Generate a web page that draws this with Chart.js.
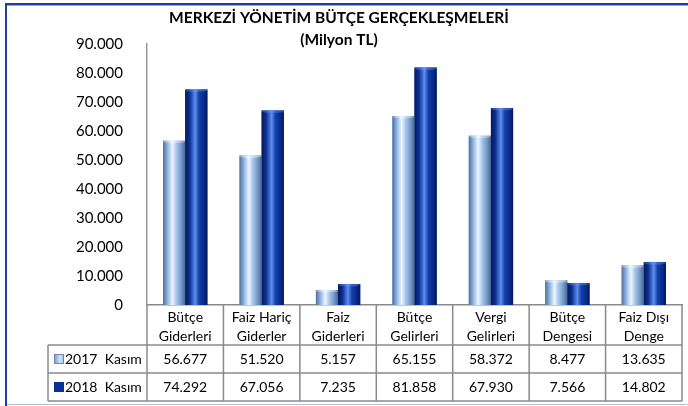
<!DOCTYPE html>
<html>
<head>
<meta charset="utf-8">
<script src="https://cdn.jsdelivr.net/npm/chart.js@4.4.1/dist/chart.umd.min.js"></script>
<style>
  html, body { margin: 0; padding: 0; background: #fff; }
  #wrap { width: 688px; height: 406px; position: relative; }
</style>
</head>
<body>
<div id="wrap"><canvas id="butceChart" width="688" height="406"></canvas></div>
<script>
const categories = [
  ['Bütçe', 'Giderleri'],
  ['Faiz Hariç', 'Giderler'],
  ['Faiz', 'Giderleri'],
  ['Bütçe', 'Gelirleri'],
  ['Vergi', 'Gelirleri'],
  ['Bütçe', 'Dengesi'],
  ['Faiz Dışı', 'Denge']
];
const seriesNames = ['2017  Kasım', '2018  Kasım'];
const kasim2017 = [56677, 51520, 5157, 65155, 58372, 8477, 13635];
const kasim2018 = [74292, 67056, 7235, 81858, 67930, 7566, 14802];
const yTicks = [0, 10000, 20000, 30000, 40000, 50000, 60000, 70000, 80000, 90000];
const titleLines = ['MERKEZİ YÖNETİM BÜTÇE GERÇEKLEŞMELERİ', '(Milyon TL)'];

const FONT = 'Lato, "Open Sans", sans-serif';

// 90000 -> "90.000"
function trNum(v) {
  return String(v).replace(/\B(?=(\d{3})+(?!\d))/g, '.');
}

// cylinder-like horizontal gradients for each series
const gradStops = [
  [[0, '#4f6f9b'], [0.18, '#86acdc'], [0.42, '#eef6ff'], [0.6, '#a8c7ee'], [0.85, '#6d91c2'], [1, '#4a6792']],
  [[0, '#06195a'], [0.2, '#0a2f94'], [0.45, '#5f8ded'], [0.62, '#1440ae'], [0.85, '#092a86'], [1, '#04185a']]
];

const cylinderBars = {
  id: 'cylinderBars',
  afterDatasetsDraw(chart) {
    const ctx = chart.ctx;
    chart.data.datasets.forEach((ds, di) => {
      const meta = chart.getDatasetMeta(di);
      meta.data.forEach(el => {
        const left = el.x - el.width / 2;
        const g = ctx.createLinearGradient(left, 0, left + el.width, 0);
        gradStops[di].forEach(s => g.addColorStop(s[0], s[1]));
        ctx.save();
        ctx.fillStyle = g;
        ctx.fillRect(left, el.y, el.width, el.base - el.y);
        // soft top cap
        ctx.fillStyle = di === 0 ? 'rgba(255,255,255,0.35)' : 'rgba(120,160,240,0.35)';
        ctx.beginPath();
        ctx.ellipse(el.x, el.y + 1, el.width / 2, 1.5, 0, 0, Math.PI * 2);
        ctx.fill();
        ctx.restore();
      });
    });
  }
};

const titleAndTable = {
  id: 'titleAndTable',
  afterDraw(chart) {
    const ctx = chart.ctx;
    const xs = chart.scales.x;
    const area = chart.chartArea;
    const colW = (area.right - area.left) / categories.length;
    const rowTop = area.bottom + 40;
    const rowH = 28;
    const legendLeft = 48;

    ctx.save();
    // title
    ctx.fillStyle = '#000';
    ctx.font = 'bold 15.5px ' + FONT;
    ctx.textAlign = 'center';
    ctx.textBaseline = 'middle';
    ctx.fillText(titleLines[0], 339, 18);
    ctx.fillText(titleLines[1], 339, 40);

    // table grid
    ctx.strokeStyle = '#8a8a8a';
    ctx.lineWidth = 1.5;
    ctx.beginPath();
    for (let i = 0; i <= categories.length; i++) {
      const x = area.left + i * colW;
      ctx.moveTo(x, area.bottom);
      ctx.lineTo(x, rowTop + 2 * rowH);
    }
    ctx.moveTo(legendLeft, rowTop);
    ctx.lineTo(legendLeft, rowTop + 2 * rowH);
    for (let r = 0; r <= 2; r++) {
      ctx.moveTo(legendLeft, rowTop + r * rowH);
      ctx.lineTo(area.right, rowTop + r * rowH);
    }
    ctx.stroke();

    // values
    ctx.font = '14px ' + FONT;
    const rows = [kasim2017, kasim2018];
    rows.forEach((vals, r) => {
      const cy = rowTop + r * rowH + rowH / 2;
      ctx.textAlign = 'center';
      vals.forEach((v, i) => {
        ctx.fillText(trNum(v), xs.getPixelForValue(i), cy);
      });
      // legend key
      const g = ctx.createLinearGradient(55, 0, 65, 0);
      if (r === 0) {
        g.addColorStop(0, '#7f9fcc'); g.addColorStop(0.5, '#d3e4f8'); g.addColorStop(1, '#8fb0dc');
      } else {
        g.addColorStop(0, '#0a2f96'); g.addColorStop(1, '#0a2f96');
      }
      ctx.fillStyle = g;
      ctx.fillRect(54, cy - 5, 10, 10);
      if (r === 0) {
        ctx.strokeStyle = '#6d87ad';
        ctx.lineWidth = 1;
        ctx.strokeRect(54.5, cy - 4.5, 9, 9);
      }
      ctx.fillStyle = '#000';
      ctx.textAlign = 'left';
      ctx.fillText(seriesNames[r], 65, cy);
    });

    // outer frame
    ctx.fillStyle = '#1e3f9e';
    ctx.fillRect(5, 3, 683, 2);
    ctx.fillRect(5, 3, 2, 403);
    ctx.fillStyle = '#8fa6d6';
    ctx.fillRect(7, 5, 681, 1);
    ctx.fillStyle = '#b3c0dc';
    ctx.fillRect(7, 404, 681, 1);
    ctx.restore();
  }
};

new Chart(document.getElementById('butceChart').getContext('2d'), {
  type: 'bar',
  data: {
    labels: categories,
    datasets: [
      { label: seriesNames[0], data: kasim2017, backgroundColor: '#8db3e2' },
      { label: seriesNames[1], data: kasim2018, backgroundColor: '#0b34a0' }
    ]
  },
  options: {
    responsive: false,
    animation: false,
    devicePixelRatio: 1,
    layout: { padding: { top: 44, bottom: 61, left: 0, right: 6 } },
    datasets: {
      bar: { categoryPercentage: 0.58, barPercentage: 1 }
    },
    plugins: {
      legend: { display: false },
      title: { display: false },
      tooltip: { enabled: false }
    },
    scales: {
      x: {
        grid: { display: false },
        border: { display: true, color: '#8a8a8a', width: 1.5 },
        ticks: {
          color: '#000',
          font: { family: FONT, size: 14, lineHeight: 1.35 },
          padding: -5,
          maxRotation: 0,
          autoSkip: false
        },
        afterFit(scale) { scale.height = 40; }
      },
      y: {
        min: 0,
        max: 90000,
        afterBuildTicks(scale) { scale.ticks = yTicks.map(v => ({ value: v })); },
        grid: { display: false },
        border: { display: true, color: '#9a9a9a', width: 1.5 },
        ticks: {
          color: '#000',
          font: { family: FONT, size: 15 },
          padding: 16,
          callback: v => trNum(v)
        },
        afterFit(scale) { scale.width = 147; }
      }
    }
  },
  plugins: [cylinderBars, titleAndTable]
});
</script>
</body>
</html>
